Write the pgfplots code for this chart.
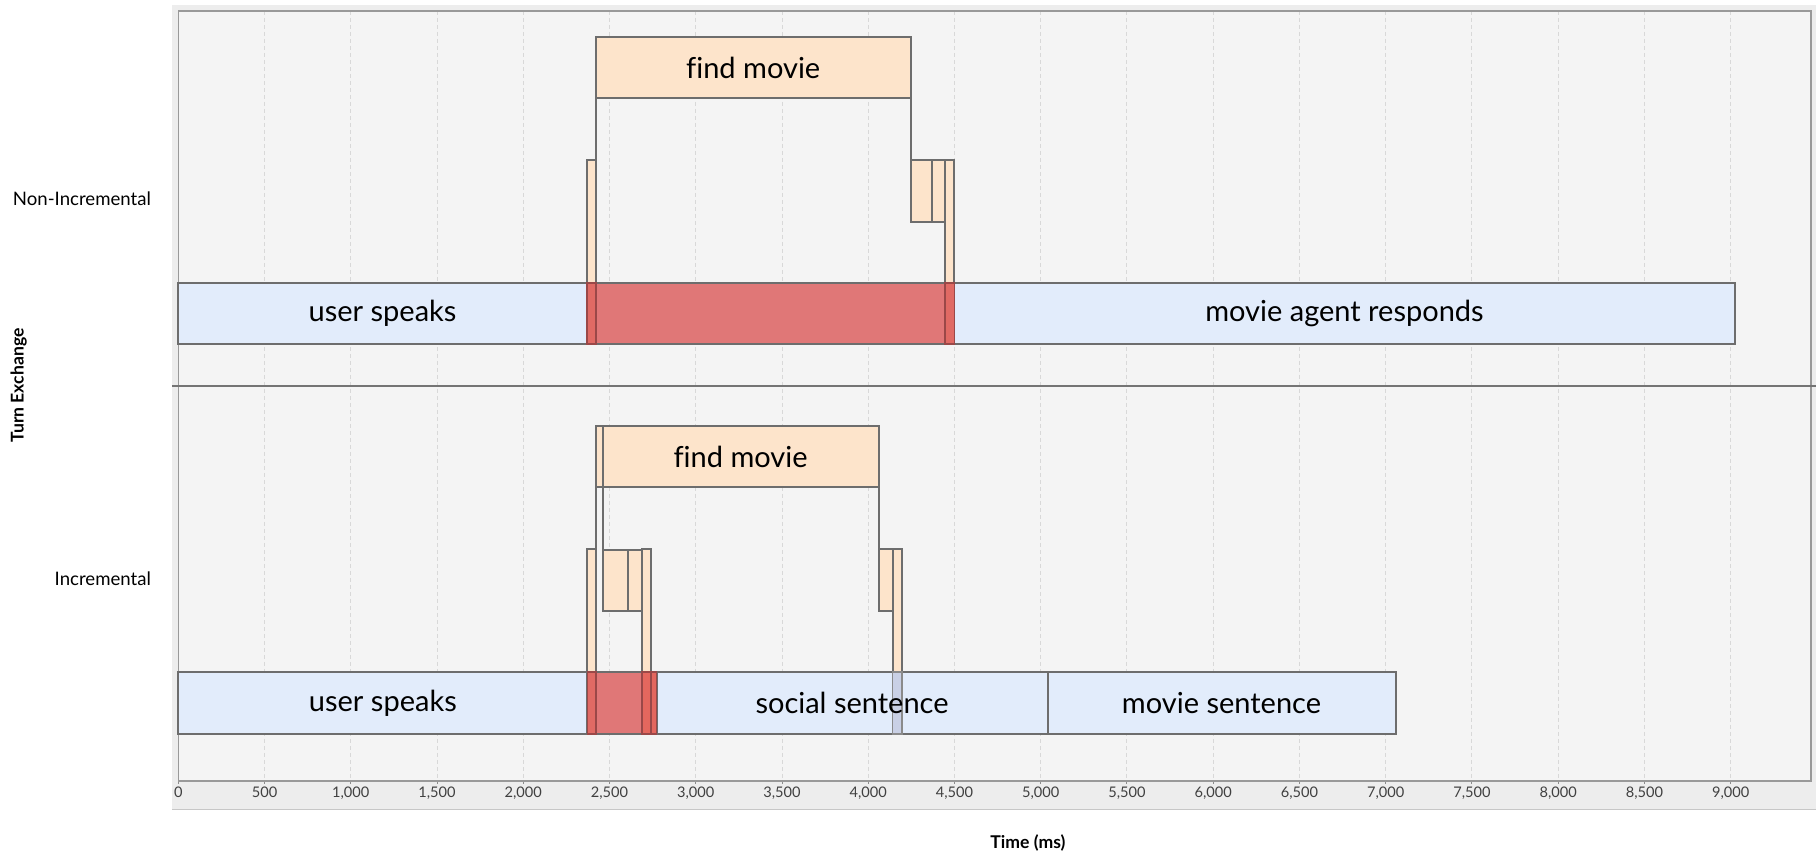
\documentclass[border=0pt]{standalone}
\usepackage{pgfplots}
\pgfplotsset{compat=1.18}
\usepackage{fontspec}
\setmainfont{Lato}[Ligatures=NoCommon]
\definecolor{bluebar}{HTML}{E2ECFB}
\definecolor{orangebar}{HTML}{FDE4CB}
\definecolor{redbar}{HTML}{E07777}
\definecolor{redov}{HTML}{E06A64}
\definecolor{redov2}{HTML}{E4675E}
\definecolor{lavov}{HTML}{C9D0E5}
\definecolor{edge}{HTML}{6D6D6D}
\definecolor{redge}{HTML}{9A4848}
\definecolor{plotbg}{HTML}{F4F4F4}
\definecolor{outerbg}{HTML}{EDEDED}
\definecolor{gridc}{HTML}{D8D8D8}
\definecolor{tickc}{HTML}{404040}
\newcommand{\rectbar}[5]{\addplot[#5] coordinates {(#1,#3) (#2,#3) (#2,#4) (#1,#4)} -- cycle;}
\tikzset{
  bb/.style={fill=bluebar, draw=edge, line width=1pt},
  ob/.style={fill=orangebar, draw=edge, line width=1pt},
  rb/.style={fill=redbar, draw=edge, line width=1pt},
  ro/.style={fill=redov, draw=redge, line width=0.8pt},
  ro2/.style={fill=redov2, draw=redge, line width=0.8pt},
  lo/.style={fill=lavov, draw=edge!80, line width=0.8pt},
  conn/.style={draw=edge, line width=1pt},
  lab/.style={font=\fontsize{14.5}{16}\selectfont, text=black},
}
\begin{document}
\begin{tikzpicture}
% outer panel background (chart frame)
\fill[outerbg] (-3.15pt,-14.5pt) rectangle (818.85pt,388pt);
\draw[draw=black!22, line width=0.5pt] (-3.15pt,-14.5pt) -- (818.85pt,-14.5pt);
\begin{axis}[
  at={(0pt,0pt)}, anchor=south west,
  scale only axis, width=816.35pt, height=385pt,
  xmin=0, xmax=9465.5,
  ymin=11, ymax=781, y dir=reverse,
  clip=false,
  axis background/.style={fill=plotbg},
  axis line style={draw=black!40, line width=0.6pt},
  xtick={0,500,...,9000},
  xmajorgrids,
  grid style={draw=gridc, line width=0.5pt, dash pattern=on 2pt off 1.5pt},
  xtick pos=bottom, tick align=outside, major tick length=1.5pt,
  x tick style={draw=black!45, line width=0.5pt},
  /pgf/number format/.cd, 1000 sep={,}, assume math mode=true, /pgfplots/.cd,
  xticklabel style={font=\fontsize{7.3}{8}\selectfont, text=tickc, inner sep=0pt, anchor=north, yshift=-1.5pt},
  ytick={199,579},
  yticklabels={Non-Incremental,Incremental},
  y tick style={draw=none},
  yticklabel style={font=\fontsize{9.3}{11}\selectfont, text=black, inner sep=0pt, anchor=east, xshift=-12pt},
  xlabel={Time (ms)},
  ylabel={Turn Exchange},
  every axis x label/.style={at={(axis cs:4926,843)}, anchor=center, font=\bfseries\fontsize{8.8}{10}\selectfont},
  every axis y label/.style={at={(axis cs:-926,385.6)}, anchor=center, rotate=90, font=\bfseries\fontsize{8.8}{10}\selectfont},
]
% ---------- Non-Incremental ----------
\rectbar{0}{2368}{283}{344}{bb}
\rectbar{4499}{9024}{283}{344}{bb}
\rectbar{2368}{4499}{283}{344}{rb}
\rectbar{2368}{2421}{160}{283}{ob}
\rectbar{2368}{2421}{283}{344}{ro}
\rectbar{4445}{4499}{160}{283}{ob}
\rectbar{4445}{4499}{283}{344}{ro}
\addplot[conn] coordinates {(2421,98.3) (2421,160)};
\addplot[conn] coordinates {(4246,98.3) (4246,160)};
\rectbar{4246}{4367}{160}{221.7}{ob}
\rectbar{4367}{4445}{160}{221.7}{ob}
\rectbar{2421}{4246}{36.7}{98.3}{ob}
\node[lab] at (axis cs:3333,67.5) {find movie};
\node[lab] at (axis cs:1184,313.5) {user speaks};
\node[lab] at (axis cs:6761,313.5) {movie agent responds};
% ---------- Incremental ----------
\rectbar{0}{2372}{672.3}{734.3}{bb}
\rectbar{2773}{5040}{672.3}{734.3}{bb}
\rectbar{5040}{7057}{672.3}{734.3}{bb}
\rectbar{2372}{2773}{672.3}{734.3}{rb}
\rectbar{2372}{2420}{549}{672.3}{ob}
\rectbar{2372}{2420}{672.3}{734.3}{ro}
\rectbar{2690}{2740}{549}{672.3}{ob}
\rectbar{2690}{2773}{672.3}{734.3}{ro2}
\rectbar{2690}{2740}{672.3}{734.3}{ro2}
\addplot[conn] coordinates {(2420,487.3) (2420,549)};
\addplot[conn] coordinates {(2460,487.3) (2460,550)};
\addplot[conn] coordinates {(4060,487.3) (4060,549)};
\rectbar{2460}{2609}{550}{610.7}{ob}
\rectbar{2609}{2690}{550}{610.7}{ob}
\rectbar{4060}{4141}{549}{610.7}{ob}
\rectbar{4141}{4197}{549}{672.3}{ob}
\rectbar{4141}{4197}{672.3}{734.3}{lo}
\rectbar{2420}{2460}{425.7}{487.3}{ob}
\rectbar{2460}{4060}{425.7}{487.3}{ob}
\node[lab] at (axis cs:3260,456.5) {find movie};
\node[lab] at (axis cs:1186,703.3) {user speaks};
\node[lab] at (axis cs:3906,703.3) {social sentence};
\node[lab] at (axis cs:6048,703.3) {movie sentence};
% panel separator
\draw[draw=edge!95, line width=1pt] (axis cs:-36.5,386) -- (axis cs:9494,386);
\end{axis}
\pgfresetboundingbox
\useasboundingbox (-89.15pt,-36.5pt) rectangle (818.85pt,390.5pt);
\end{tikzpicture}
\end{document}
